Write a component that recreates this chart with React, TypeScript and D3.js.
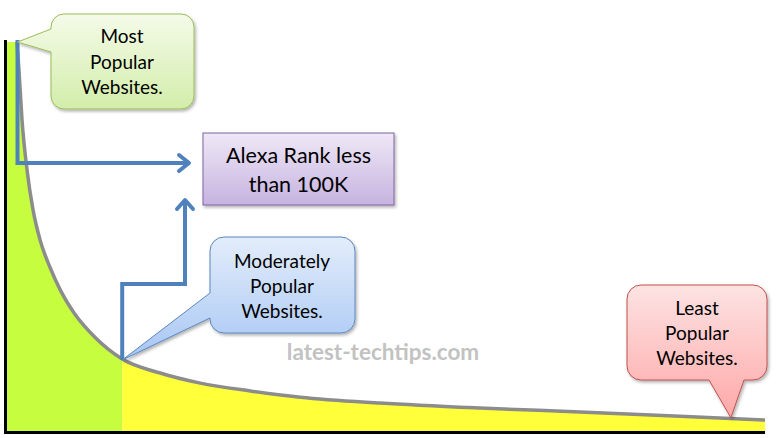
import React from "react";
import * as d3 from "d3";

// Website rank (percentile of all sites, 0..100) vs relative traffic (0..100)
const rankPct: number[] = [0, 1.32, 1.58, 1.98, 2.64, 3.43, 4.35, 5.67, 6.99, 8.97, 11.6, 15.2, 20.2, 25.5, 32.1, 38.7, 49.2, 62.4, 75.6, 88.8, 100];
const traffic: number[] = [100, 100, 92.8, 80, 67.2, 56.9, 49.2, 42.1, 36.4, 30, 24.1, 18.5, 14.9, 12.3, 10.3, 8.7, 7.2, 5.9, 4.9, 3.8, 2.8];
const splitRank = 15.2; // Alexa rank 100K boundary
const labelMost: string[] = ["Most", "Popular", "Websites."];
const labelModerate: string[] = ["Moderately", "Popular", "Websites."];
const labelLeast: string[] = ["Least", "Popular", "Websites."];
const labelAlexa: string[] = ["Alexa Rank less", "than 100K"];
const watermark = "latest-techtips.com";

const W = 776, H = 438;
const FONT = "Lato, 'Open Sans', sans-serif";

type Pt = { x: number; y: number };

function callout(x: number, y: number, w: number, h: number, r: number, side: "left" | "bottom" | "none", a = 0, b = 0, tip: Pt = { x: 0, y: 0 }) {
  const p = d3.path();
  p.moveTo(x + r, y);
  p.lineTo(x + w - r, y);
  p.arcTo(x + w, y, x + w, y + r, r);
  p.lineTo(x + w, y + h - r);
  p.arcTo(x + w, y + h, x + w - r, y + h, r);
  if (side === "bottom") {
    p.lineTo(b, y + h);
    p.lineTo(tip.x, tip.y);
    p.lineTo(a, y + h);
  }
  p.lineTo(x + r, y + h);
  p.arcTo(x, y + h, x, y + h - r, r);
  if (side === "left") {
    p.lineTo(x, b);
    p.lineTo(tip.x, tip.y);
    p.lineTo(x, a);
  }
  p.lineTo(x, y + r);
  p.arcTo(x, y, x + r, y, r);
  p.closePath();
  return p.toString();
}

export default function App() {
  const x = d3.scaleLinear().domain([0, 100]).range([7, 765]);
  const y = d3.scaleLinear().domain([0, 100]).range([431, 42]);
  const data = rankPct.map((r, i) => ({ r, t: traffic[i] }));
  const area = d3.area<{ r: number; t: number }>().x(d => x(d.r)).y0(y(0)).y1(d => y(d.t)).curve(d3.curveMonotoneX);
  const line = d3.line<{ r: number; t: number }>().x(d => x(d.r)).y(d => y(d.t)).curve(d3.curveMonotoneX);
  const sx = x(splitRank);
  const topPt = { x: x(rankPct[1]) + 0.5, y: y(traffic[1]) };
  const midPt = { x: sx, y: y(traffic[11]) + 1 };
  const endPt = { x: x(95.5), y: y(3.4) };

  const blue = "#4f81bd";

  return (
    <svg width={W} height={H} style={{ position: "absolute", left: 0, top: 0, background: "#fff" }} fontFamily={FONT}>
      <defs>
        <clipPath id="clipGreen"><rect x={0} y={0} width={sx} height={H} /></clipPath>
        <clipPath id="clipYellow"><rect x={sx} y={0} width={W - sx} height={H} /></clipPath>
        <linearGradient id="gGreen" x1="0" y1="0" x2="0" y2="1">
          <stop offset="0" stopColor="#f4fbe9" />
          <stop offset="1" stopColor="#d3edaa" />
        </linearGradient>
        <linearGradient id="gPurple" x1="0" y1="0" x2="0" y2="1">
          <stop offset="0" stopColor="#efe8f6" />
          <stop offset="1" stopColor="#c6b3e0" />
        </linearGradient>
        <linearGradient id="gBlue" x1="0" y1="0" x2="0" y2="1">
          <stop offset="0" stopColor="#e3edfb" />
          <stop offset="1" stopColor="#a7c6f3" />
        </linearGradient>
        <linearGradient id="gRed" x1="0" y1="0" x2="0" y2="1">
          <stop offset="0" stopColor="#fde3e3" />
          <stop offset="1" stopColor="#ffa8a8" />
        </linearGradient>
        <filter id="shadow" x="-10%" y="-10%" width="130%" height="130%">
          <feDropShadow dx="1.5" dy="2" stdDeviation="1.5" floodColor="#000" floodOpacity="0.3" />
        </filter>
      </defs>

      {/* filled areas */}
      <path d={area(data) ?? ""} fill="#c6fd3e" clipPath="url(#clipGreen)" />
      <path d={area(data) ?? ""} fill="#ffff3a" clipPath="url(#clipYellow)" />
      {/* curve */}
      <path d={line(data.slice(1)) ?? ""} fill="none" stroke="#8c8c8c" strokeWidth={3.5} />
      {/* axes */}
      <line x1={5.5} y1={40} x2={5.5} y2={434} stroke="#000" strokeWidth={3} />
      <line x1={4} y1={432.5} x2={765} y2={432.5} stroke="#000" strokeWidth={3} />

      {/* watermark */}
      <text x={383} y={360} textAnchor="middle" fontSize={22.5} fontWeight={700} fill="#c2c2c2">{watermark}</text>

      {/* connector arrows */}
      <g fill="none" stroke={blue} strokeWidth={4} strokeLinejoin="miter" strokeLinecap="butt">
        <polyline points={`${topPt.x},${topPt.y - 2} ${topPt.x},163 189,163`} />
        <polyline points="179,155 189,163 179,171" strokeLinecap="round" strokeLinejoin="round" />
        <polyline points={`${midPt.x},${midPt.y} ${midPt.x},284 185,284 185,200`} />
        <polyline points="177,209 185,200 193,209" strokeLinecap="round" strokeLinejoin="round" />
      </g>

      {/* Most popular callout */}
      <g filter="url(#shadow)">
        <path d={callout(51, 14, 143, 95, 13, "left", 29, 52, topPt)} fill="url(#gGreen)" stroke="#9bbb59" strokeWidth={1} />
      </g>
      <text textAnchor="middle" fontSize={19} fill="#000">
        {labelMost.map((s, i) => <tspan key={i} x={122} y={43 + i * 25.5}>{s}</tspan>)}
      </text>

      {/* Alexa box */}
      <g filter="url(#shadow)">
        <rect x={203} y={133} width={191} height={72} fill="url(#gPurple)" stroke="#8064a2" strokeWidth={1} />
      </g>
      <text textAnchor="middle" fontSize={21.5} fill="#000">
        {labelAlexa.map((s, i) => <tspan key={i} x={298.5} y={163 + i * 29}>{s}</tspan>)}
      </text>

      {/* Moderately popular callout */}
      <g filter="url(#shadow)">
        <path d={callout(210, 237, 145, 96, 14, "left", 293, 318, midPt)} fill="url(#gBlue)" stroke="#5b86c0" strokeWidth={1} />
      </g>
      <text textAnchor="middle" fontSize={19} fill="#000">
        {labelModerate.map((s, i) => <tspan key={i} x={282} y={268 + i * 25}>{s}</tspan>)}
      </text>

      {/* Least popular callout */}
      <g filter="url(#shadow)">
        <path d={callout(627, 285, 140, 95, 14, "bottom", 709, 744, endPt)} fill="url(#gRed)" stroke="#c0504d" strokeWidth={1} />
      </g>
      <text textAnchor="middle" fontSize={19} fill="#000">
        {labelLeast.map((s, i) => <tspan key={i} x={697} y={315 + i * 25}>{s}</tspan>)}
      </text>
    </svg>
  );
}
